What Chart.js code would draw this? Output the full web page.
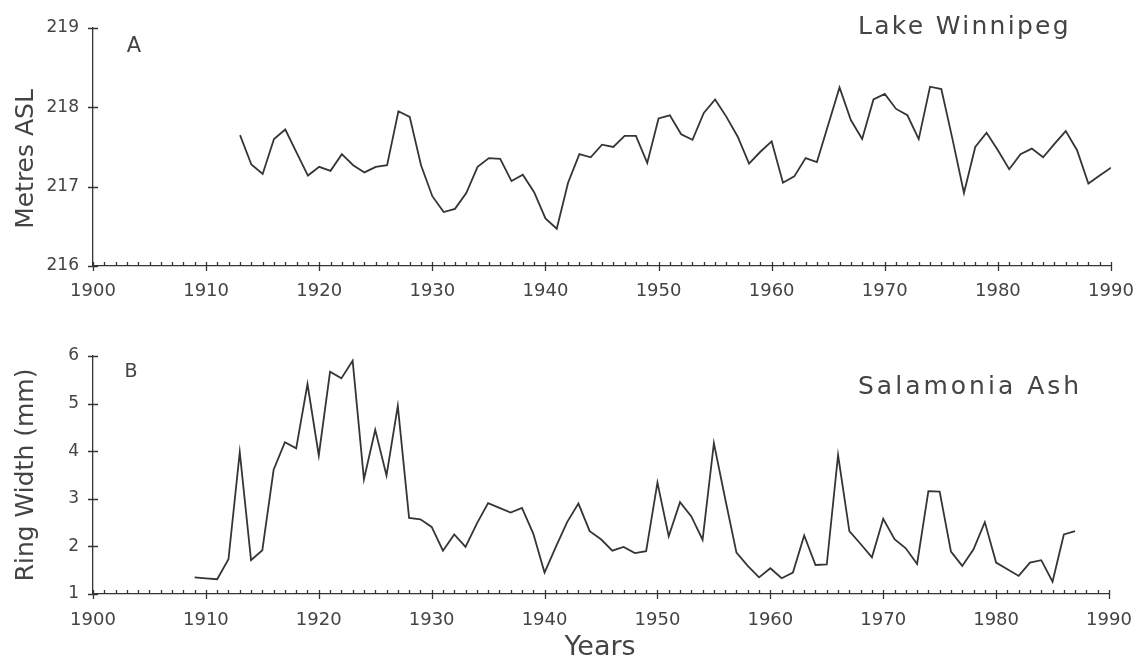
<!DOCTYPE html>
<html>
<head>
<meta charset="utf-8">
<script src="https://cdn.jsdelivr.net/npm/chart.js@4.4.1/dist/chart.umd.min.js"></script>
<style>
  html, body { margin: 0; padding: 0; background: #ffffff; }
  #wrap { position: relative; width: 1143px; height: 663px; }
  canvas { position: absolute; left: 0; display: block; }
  #lakeChart { top: 0; }
  #ashChart { top: 320px; }
</style>
</head>
<body>
<div id="wrap">
  <canvas id="lakeChart" width="1143" height="320"></canvas>
  <canvas id="ashChart" width="1143" height="343"></canvas>
</div>
<script>
// Annual mean level of Lake Winnipeg (metres above sea level), 1913-1990
const lakeFirstYear = 1913;
const lakeLevel = [
  217.65, 217.28, 217.16, 217.60, 217.72, 217.43, 217.14, 217.25, 217.20, 217.41,
  217.27, 217.18, 217.25, 217.27, 217.95, 217.88, 217.27, 216.88, 216.68, 216.72,
  216.92, 217.25, 217.36, 217.35, 217.07, 217.15, 216.93, 216.60, 216.47, 217.05,
  217.41, 217.37, 217.53, 217.50, 217.64, 217.64, 217.30, 217.86, 217.90, 217.66,
  217.59, 217.93, 218.10, 217.88, 217.63, 217.29, 217.44, 217.57, 217.05, 217.13,
  217.36, 217.31, 217.78, 218.25, 217.84, 217.60, 218.10, 218.17, 217.98, 217.90,
  217.60, 218.26, 218.23, 217.59, 216.92, 217.50, 217.68, 217.46, 217.22, 217.41,
  217.48, 217.37, 217.54, 217.70, 217.46, 217.04, 217.14, 217.24
];

// Salamonia ash annual ring width (mm), 1909-1987
const ashFirstYear = 1909;
const ashRingWidth = [
  1.35, 1.33, 1.31, 1.73, 3.98, 1.71, 1.92, 3.61, 4.19, 4.06,
  5.41, 3.91, 5.67, 5.53, 5.90, 3.41, 4.45, 3.49, 4.95, 2.60,
  2.57, 2.41, 1.91, 2.25, 1.99, 2.48, 2.91, 2.81, 2.71, 2.81,
  2.27, 1.45, 1.99, 2.51, 2.90, 2.32, 2.15, 1.91, 1.99, 1.86,
  1.90, 3.34, 2.21, 2.93, 2.63, 2.14, 4.17, 3.00, 1.87, 1.59,
  1.35, 1.54, 1.33, 1.45, 2.23, 1.61, 1.62, 3.92, 2.32, 2.05,
  1.77, 2.58, 2.15, 1.96, 1.63, 3.16, 3.15, 1.89, 1.59, 1.94,
  2.51, 1.66, 1.52, 1.38, 1.66, 1.71, 1.26, 2.25, 2.32
];

// Axis tick labels
const yearTicks = [1900, 1910, 1920, 1930, 1940, 1950, 1960, 1970, 1980, 1990];
const lakeTicks = [216, 217, 218, 219];
const ashTicks = [1, 2, 3, 4, 5, 6];

const INK = '#353535';
const TEXT = '#444444';
const FONT = "'DejaVu Sans', 'Liberation Sans', sans-serif";

Chart.defaults.font.family = FONT;
Chart.defaults.color = TEXT;

// Small yearly ticks along the x axis, larger ones every decade, and value ticks across the y axis
const axisTicks = {
  id: 'axisTicks',
  afterDraw(chart) {
    const { ctx } = chart;
    const x = chart.scales.x, y = chart.scales.y;
    const base = y.getPixelForValue(y.min);
    const left = x.left;
    ctx.save();
    ctx.strokeStyle = INK;
    ctx.lineWidth = 1.3;
    ctx.beginPath();
    for (let yr = x.min; yr <= x.max; yr++) {
      const px = Math.round(x.getPixelForValue(yr)) + 0.5;
      if (yr % 10 === 0) {
        ctx.moveTo(px, base - 4);
        ctx.lineTo(px, base + 5);
      } else {
        ctx.moveTo(px, base);
        ctx.lineTo(px, base - 4);
      }
    }
    y.ticks.forEach(t => {
      const py = Math.round(y.getPixelForValue(t.value)) + 0.5;
      ctx.moveTo(left - 5, py);
      ctx.lineTo(left + 5, py);
    });
    ctx.stroke();
    ctx.restore();
  }
};

// Panel letters, series names and axis titles
const panelText = {
  id: 'panelText',
  afterDraw(chart, args, opts) {
    const { ctx } = chart;
    (opts.items || []).forEach(it => {
      ctx.save();
      ctx.fillStyle = TEXT;
      ctx.font = it.font;
      ctx.letterSpacing = (it.spacing || 0) + 'px';
      ctx.textBaseline = 'alphabetic';
      ctx.textAlign = it.align || 'left';
      ctx.translate(it.x, it.y);
      if (it.rotate) ctx.rotate(it.rotate);
      ctx.fillText(it.text, 0, 0);
      ctx.restore();
    });
  }
};

function series(firstYear, values) {
  return values.map((v, i) => ({ x: firstYear + i, y: v }));
}

function makeChart(canvasId, data, ticks, pad, xHeight, xPad, texts) {
  return new Chart(document.getElementById(canvasId), {
    type: 'line',
    data: {
      datasets: [{
        data: data,
        borderColor: INK,
        borderWidth: 1.8,
        pointRadius: 0,
        tension: 0,
        fill: false
      }]
    },
    options: {
      responsive: false,
      animation: false,
      devicePixelRatio: 1,
      layout: { padding: pad },
      plugins: {
        legend: { display: false },
        tooltip: { enabled: false },
        panelText: { items: texts }
      },
      scales: {
        x: {
          type: 'linear',
          min: yearTicks[0],
          max: yearTicks[yearTicks.length - 1],
          afterBuildTicks: s => { s.ticks = yearTicks.map(v => ({ value: v })); },
          afterFit: s => { s.height = xHeight; s.paddingLeft = 0; s.paddingRight = 0; },
          grid: { display: false, drawTicks: false },
          border: { display: true, color: INK, width: 1.3 },
          ticks: {
            autoSkip: false,
            maxRotation: 0,
            padding: xPad,
            color: TEXT,
            font: { size: 18 },
            callback: v => String(v)
          }
        },
        y: {
          type: 'linear',
          min: ticks[0],
          max: ticks[ticks.length - 1],
          afterBuildTicks: s => { s.ticks = ticks.map(v => ({ value: v })); },
          afterFit: s => { s.width = 93; },
          grid: { display: false, drawTicks: false },
          border: { display: true, color: INK, width: 1.3 },
          ticks: {
            padding: 14,
            color: TEXT,
            font: { size: 17 },
            callback: v => String(v)
          }
        }
      }
    },
    plugins: [axisTicks, panelText]
  });
}

makeChart('lakeChart', series(lakeFirstYear, lakeLevel), lakeTicks,
  { top: 28, right: 32, bottom: 14, left: 0 }, 40, 15, [
    { text: 'A', x: 134, y: 52, font: '21px ' + FONT, align: 'center' },
    { text: 'Lake Winnipeg', x: 858, y: 34, font: '25px ' + FONT, spacing: 2.3 },
    { text: 'Metres ASL', x: 33, y: 159, font: '25px ' + FONT, align: 'center', rotate: -Math.PI / 2 }
  ]);

makeChart('ashChart', series(ashFirstYear, ashRingWidth), ashTicks,
  { top: 36, right: 34, bottom: 29, left: 0 }, 40, 16, [
    { text: 'B', x: 131, y: 57, font: '19px ' + FONT, align: 'center' },
    { text: 'Salamonia Ash', x: 858, y: 74, font: '25px ' + FONT, spacing: 3.0 },
    { text: 'Ring Width (mm)', x: 33, y: 155, font: '25px ' + FONT, align: 'center', rotate: -Math.PI / 2 },
    { text: 'Years', x: 600, y: 335, font: '27px ' + FONT, align: 'center' }
  ]);
</script>
</body>
</html>
